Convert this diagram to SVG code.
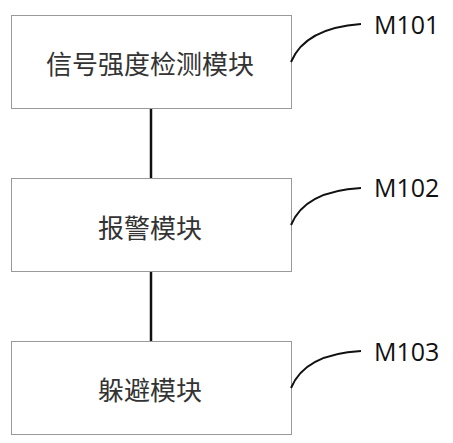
<svg xmlns="http://www.w3.org/2000/svg" width="453" height="443" viewBox="0 0 453 443">
<style>
.box{fill:#fff;stroke:#999;stroke-width:1}
.t{font-family:"Noto Sans CJK SC","Noto Sans",sans-serif;font-size:26px;fill:#333;text-anchor:middle;dominant-baseline:central}
.lbl{font-family:"Open Sans","Liberation Sans",sans-serif;font-size:25px;fill:#111}
.lead{fill:none;stroke:#111;stroke-width:2}
.conn{stroke:#111;stroke-width:2.5}
</style>
<rect width="453" height="443" fill="#fff"/>
<g id="connectors">
<line class="conn" x1="151" y1="108" x2="151" y2="178"/>
<line class="conn" x1="151" y1="272" x2="151" y2="341"/>
</g>
<g id="n1">
<rect class="box" x="11.5" y="15.5" width="280" height="93"/>
<text class="t" x="150" y="62">信号强度检测模块</text>
<path class="lead" d="M291 62 Q305 28 361 24"/>
<text class="lbl" x="374" y="34">M101</text>
</g>
<g id="n2">
<rect class="box" x="11.5" y="178.5" width="280" height="93"/>
<text class="t" x="150" y="226">报警模块</text>
<path class="lead" d="M291 225 Q305 191 361 188"/>
<text class="lbl" x="374" y="197">M102</text>
</g>
<g id="n3">
<rect class="box" x="11.5" y="341.5" width="280" height="93"/>
<text class="t" x="150" y="388">躲避模块</text>
<path class="lead" d="M291 388 Q305 354 361 351"/>
<text class="lbl" x="374" y="361">M103</text>
</g>
</svg>
